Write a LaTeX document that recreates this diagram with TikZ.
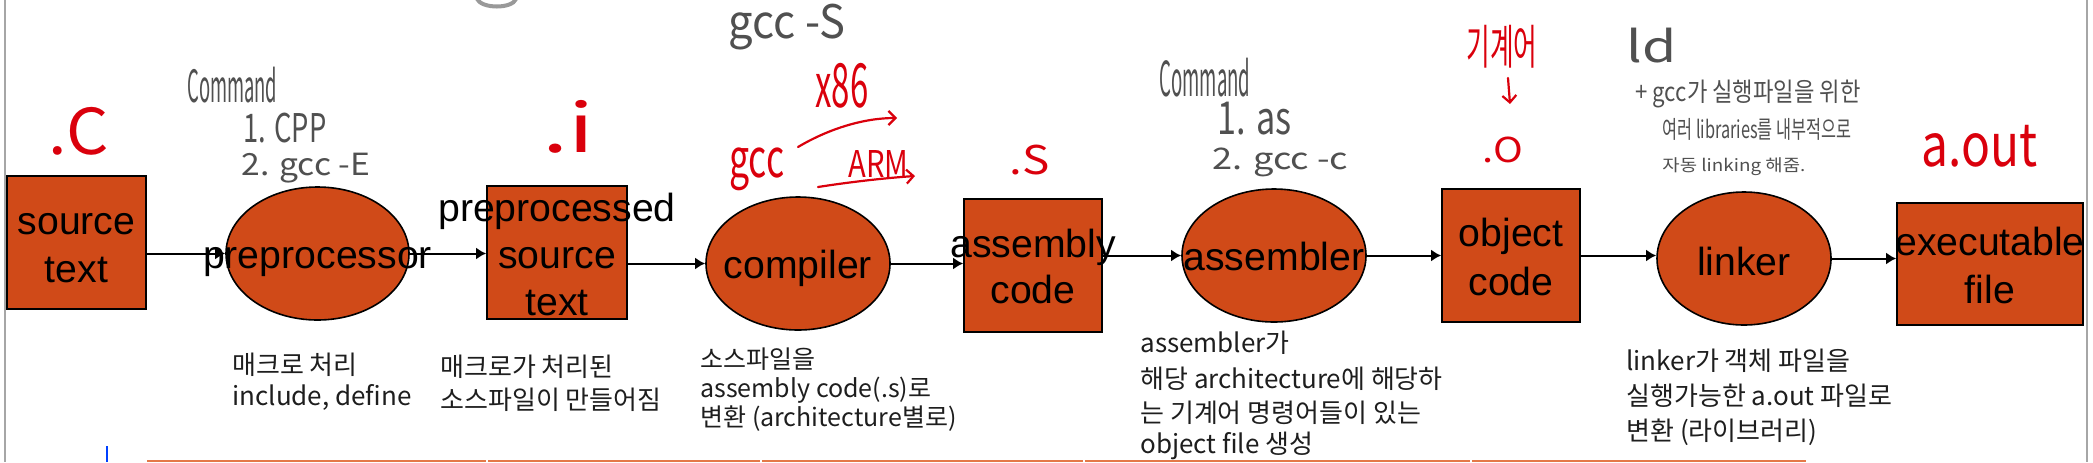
\documentclass[tikz,border=0pt]{standalone}
\usepackage{fontspec}
\usepackage{graphicx}
\setmainfont{Liberation Sans}
\newfontfamily\krfont{Noto Sans CJK KR}
\usetikzlibrary{shapes.geometric,arrows.meta}
\definecolor{boxc}{RGB}{208,74,24}
\definecolor{hwred}{RGB}{218,0,12}
\definecolor{hwgray}{RGB}{80,80,80}
\definecolor{bandc}{RGB}{228,120,72}
\definecolor{descc}{RGB}{30,30,30}
\newlength\pxu \setlength\pxu{0.5pt}
\newcommand\fitbox[3]{\resizebox*{#1\pxu}{#2\pxu}{#3}}
\begin{document}
\begin{tikzpicture}[x=0.5pt,y=-0.5pt,
  boxst/.style={draw=black, line width=0.8pt, fill=boxc, inner sep=0pt},
  ellst/.style={ellipse, draw=black, line width=0.8pt, fill=boxc, inner sep=0pt},
  lbl/.style={font=\fontsize{19.6}{23.5}\selectfont, inner sep=0pt, anchor=base},
  desc/.style={font=\krfont\fontsize{13}{16}\selectfont, inner sep=0pt, anchor=base west, text=descc},
  descs/.style={font=\krfont\fontsize{12.5}{15}\selectfont, inner sep=0pt, anchor=base west, text=descc},
  hwg/.style={text=hwgray, inner sep=0pt, anchor=north west, font=\krfont},
  hwr/.style={text=hwred, inner sep=0pt, anchor=north west, font=\krfont},
  arr/.style={line width=1pt, -{Latex[length=5pt,width=6pt]}},
  redarr/.style={draw=hwred, line width=1.1pt, line cap=round, -{Straight Barb[length=3.5pt,width=7pt]}}
]
\useasboundingbox (0,0) rectangle (2093,462);
\fill[white] (0,0) rectangle (2093,462);
% frame fragments
\draw[gray!70, line width=1pt] (5,0) -- (5,462);
\draw[gray!70, line width=1pt] (2087,0) -- (2087,462);
\draw[gray!80, line width=2pt] (477,-1) .. controls (482,9) and (512,9) .. (516,-1);
\draw[blue!75!cyan, line width=1pt] (107,446) -- (107,462);
\fill[bandc] (147,459.5) rectangle (1806,462);
\foreach \gx in {486,760,1083,1470} \fill[white] (\gx,459) rectangle (\gx+2,462);

% shapes
\node[boxst, minimum width=69.5pt, minimum height=66.5pt] (src) at (76.5,242.5) {};
\node[ellst, minimum width=91.5pt, minimum height=66.5pt] (pre) at (317.5,253.5) {};
\node[boxst, minimum width=70pt, minimum height=66.5pt] (pp) at (557,252.5) {};
\node[ellst, minimum width=92pt, minimum height=66.5pt] (comp) at (798,263.5) {};
\node[boxst, minimum width=69pt, minimum height=66.5pt] (asm) at (1033,265.5) {};
\node[ellst, minimum width=92pt, minimum height=66.5pt] (asmr) at (1274,255.5) {};
\node[boxst, minimum width=69pt, minimum height=66.5pt] (obj) at (1511,255.5) {};
\node[ellst, minimum width=87pt, minimum height=66.5pt] (lnk) at (1744,258.5) {};
\node[boxst, minimum width=93pt, minimum height=61pt] (exe) at (1990,264) {};

% connectors
\draw[arr] (src.east |- pre.west) -- (pre.west);
\draw[arr] (pre.east) -- (pre.east -| pp.west);
\draw[arr] (pp.east |- comp.west) -- (comp.west);
\draw[arr] (comp.east) -- (comp.east -| asm.west);
\draw[arr] (asm.east |- asmr.west) -- (asmr.west);
\draw[arr] (asmr.east) -- (asmr.east -| obj.west);
\draw[arr] (obj.east) -- (obj.east -| lnk.west);
\draw[arr] (lnk.east) -- (lnk.east -| exe.west);

% labels
\node[lbl] (srcA) at (76.5,234) {source};
\node[lbl] (srcB) at (76.5,282) {text};
\node[lbl] (preA) at (317.5,268) {preprocessor};
\node[lbl] (ppA) at (557,221) {preprocessed};
\node[lbl] (ppB) at (557,268) {source};
\node[lbl] (ppC) at (557,315) {text};
\node[lbl] (compA) at (798,278) {compiler};
\node[lbl] (asmA) at (1033,257) {assembly};
\node[lbl] (asmB) at (1033,303) {code};
\node[lbl] (asmrA) at (1274,270) {assembler};
\node[lbl] (objA) at (1511,246) {object};
\node[lbl] (objB) at (1511,295) {code};
\node[lbl] (lnkA) at (1744,275) {linker};
\node[lbl] (exeA) at (1990,255) {executable};
\node[lbl] (exeB) at (1990,303) {file};

% descriptions
\node[desc] (d1a) at (232,374) {매크로 처리};
\node[desc] (d1b) at (232,405) {include, define};
\node[desc] (d2a) at (440,376) {매크로가 처리된};
\node[desc] (d2b) at (440,409) {소스파일이 만들어짐};
\node[descs] (d3a) at (700,368) {소스파일을};
\node[descs] (d3b) at (700,397) {assembly code(.s)로};
\node[descs] (d3c) at (700,426) {변환 (architecture별로)};
\node[desc] (d4a) at (1140,352) {assembler가};
\node[desc] (d4b) at (1140,388) {해당 architecture에 해당하};
\node[desc] (d4c) at (1140,422) {는 기계어 명령어들이 있는};
\node[desc] (d4d) at (1140,453) {object file 생성};
\node[desc] (d5a) at (1626,370) {linker가 객체 파일을};
\node[desc] (d5b) at (1626,405) {실행가능한 a.out 파일로};
\node[desc] (d5c) at (1626,440) {변환 (라이브러리)};

% handwritten notes (gray)
\node[hwg] (cmd1) at (187,67) {\fitbox{90}{36}{Command}};
\node[hwg] (cpp1) at (243,113) {\fitbox{83}{30}{1. CPP}};
\node[hwg] (gccE) at (241,153) {\fitbox{129}{30}{2. gcc -E}};
\node[hwg] (gccS) at (728,4) {\fitbox{117}{46}{gcc -S}};
\node[hwg] (cmd2) at (1159,58) {\fitbox{91}{39}{Command}};
\node[hwg] (as1) at (1217,102) {\fitbox{74}{33}{1. as}};
\node[hwg] (gccc) at (1212,148) {\fitbox{136}{29}{2. gcc -c}};
\node[hwg] (ld) at (1626,28) {\fitbox{50}{35}{ld}};
\node[hwg] (ldA) at (1635,80) {\fitbox{225}{28}{+ gcc가 실행파일을 위한}};
\node[hwg] (ldB) at (1662,118) {\fitbox{189}{22}{여러 libraries를 내부적으로}};
\node[hwg] (ldC) at (1662,157) {\fitbox{143}{18}{자동 linking 해줌.}};

% handwritten notes (red)
\node[hwr] (extC) at (48,107) {\fitbox{61}{48}{.C}};
\node[hwr] (extI) at (542,100) {\fitbox{52}{53}{.i}};
\node[hwr] (x86) at (815,63) {\fitbox{53}{45}{x86}};
\node[hwr] (gccR) at (729,147) {\fitbox{55}{43}{gcc}};
\node[hwr] (arm) at (848,150) {\fitbox{60}{27}{ARM}};
\node[hwr] (extS) at (1009,145) {\fitbox{40}{30}{.S}};
\node[hwr] (mach) at (1466,25) {\fitbox{71}{43}{기계어}};
\node[hwr] (extO) at (1482,137) {\fitbox{41}{26}{.O}};
\node[hwr] (aout) at (1921,125) {\fitbox{116}{42}{a.out}};

\coordinate (x86s) at (798,147);
\coordinate (x86e) at (897,118);
\draw[redarr] (x86s) .. controls (830,128) and (865,118) .. (x86e);
\coordinate (arms) at (818,187);
\coordinate (arme) at (915,176);
\draw[redarr] (arms) .. controls (850,182) and (885,178) .. (arme);
\coordinate (kds) at (1508,78);
\coordinate (kde) at (1510,104);
\draw[redarr] (kds) -- (kde);
\end{tikzpicture}
\end{document}
